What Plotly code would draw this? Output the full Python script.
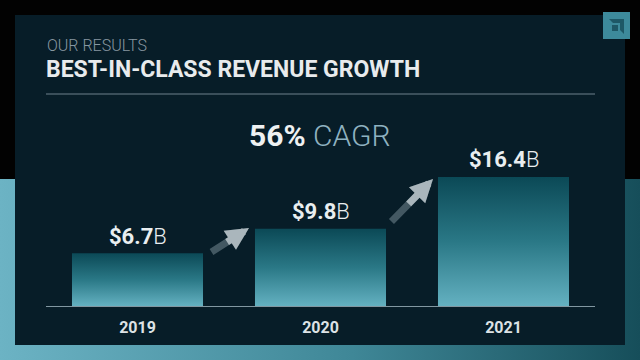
import plotly.graph_objects as go

# ---- data ----
years = ["2019", "2020", "2021"]
revenue_b = [6.7, 9.8, 16.4]
value_labels = ["$6.7", "$9.8", "$16.4"]
kicker = "OUR RESULTS"
title = "BEST-IN-CLASS REVENUE GROWTH"
cagr_value = "56%"
cagr_label = "CAGR"

W, H = 640, 360
FONT = "Roboto"

def px(x):
    return x / W

def py(y):
    return 1 - y / H

fig = go.Figure()

# ---- background layers on a full-page pixel subplot (xy) ----
fig.add_trace(go.Scatter(
    x=[0, W, W, 0, 0], y=[179, 179, H, H, 179], mode="lines",
    line=dict(width=0), fill="toself",
    fillgradient=dict(type="horizontal",
                      colorscale=[[0, "#6cb3c4"], [0.55, "#3f8797"], [1, "#164e5a"]]),
    hoverinfo="skip", showlegend=False, xaxis="x", yaxis="y"))
fig.add_trace(go.Scatter(
    x=[15, 625, 625, 15, 15], y=[15, 15, 345, 345, 15], mode="lines",
    line=dict(width=0), fill="toself", fillcolor="#071d28",
    hoverinfo="skip", showlegend=False, xaxis="x", yaxis="y"))

# ---- bars (vertical gradient fill), on the chart subplot (x2y2) ----
half = 0.358
for i, v in enumerate(revenue_b):
    fig.add_trace(go.Scatter(
        x=[i - half, i - half, i + half, i + half, i - half],
        y=[0, v, v, 0, 0], mode="lines", line=dict(width=0),
        fill="toself",
        fillgradient=dict(type="vertical",
                          colorscale=[[0, "#64b1c1"], [0.5, "#2a7886"], [1, "#0b4956"]]),
        hoverinfo="skip", showlegend=False, xaxis="x2", yaxis="y2"))

for i, (v, lab) in enumerate(zip(revenue_b, value_labels)):
    fig.add_annotation(
        x=i, y=v, xref="x2", yref="y2", text=f"<b>{lab}</b>B",
        showarrow=False, yanchor="middle", yshift=17,
        font=dict(family=FONT, size=22, color="#e9eef0", weight=300))

# growth arrows (layered to suggest the fade toward the tail)
for (hx, hy, tx, ty) in [(249, 228, 210, 253), (433, 179, 390, 223)]:
    fig.add_annotation(
        x=px(hx), y=py(hy), xref="paper", yref="paper", text="",
        showarrow=True, ax=tx - hx, ay=ty - hy, arrowhead=2, arrowsize=0.65,
        arrowwidth=7, arrowcolor="rgba(140,160,168,0.45)", standoff=0)
    fig.add_annotation(
        x=px(hx), y=py(hy), xref="paper", yref="paper", text="",
        showarrow=True, ax=(tx - hx) * 0.6, ay=(ty - hy) * 0.6, arrowhead=2,
        arrowsize=0.65, arrowwidth=7, arrowcolor="rgba(205,214,218,0.75)", standoff=0)

# header texts
fig.add_annotation(x=px(45), y=py(45), xref="paper", yref="paper", text=kicker,
                   showarrow=False, xanchor="left", yanchor="middle",
                   font=dict(family=FONT, size=16, color="#8797a1", weight=300))
fig.add_annotation(x=px(44), y=py(70), xref="paper", yref="paper", text=f"<b>{title}</b>",
                   showarrow=False, xanchor="left", yanchor="middle",
                   font=dict(family=FONT, size=23, color="#e8ebed"))
fig.add_annotation(x=px(320), y=py(135), xref="paper", yref="paper",
                   text=f"<b>{cagr_value}</b> <span style='color:#8fb2c0'>{cagr_label}</span>",
                   showarrow=False, xanchor="center", yanchor="middle",
                   font=dict(family=FONT, size=30, color="#eef1f2", weight=300))

fig.add_shape(type="line", xref="paper", yref="paper", x0=px(46), x1=px(595),
              y0=py(94), y1=py(94), line=dict(color="#6f818c", width=1))
fig.add_shape(type="rect", xref="paper", yref="paper", x0=px(603), x1=px(630),
              y0=py(12), y1=py(39), line=dict(width=0), fillcolor="#3d8a9b")
fig.add_shape(type="path", xref="paper", yref="paper",
              path=(f"M {px(609)} {py(19)} L {px(624)} {py(19)} L {px(624)} {py(34)} "
                    f"L {px(620)} {py(30)} L {px(620)} {py(23)} L {px(613)} {py(23)} Z "
                    f"M {px(612)} {py(25)} L {px(618)} {py(25)} L {px(618)} {py(31)} "
                    f"L {px(612)} {py(31)} Z"),
              line=dict(width=0), fillcolor="#1e5866")

fig.update_layout(
    width=W, height=H, margin=dict(l=0, r=0, t=0, b=0),
    paper_bgcolor="#020202", plot_bgcolor="rgba(0,0,0,0)",
    showlegend=False,
    xaxis=dict(domain=[0, 1], range=[0, W], visible=False, fixedrange=True),
    yaxis=dict(domain=[0, 1], range=[H, 0], visible=False, fixedrange=True),
    xaxis2=dict(domain=[px(46), px(595)], range=[-0.5, 2.5], anchor="y2",
                tickmode="array", tickvals=[0, 1, 2],
                ticktext=[f"<b>{y}</b>" for y in years],
                tickfont=dict(family=FONT, size=16, color="#dde2e5"),
                showline=True, linecolor="#8197a1", linewidth=1,
                showgrid=False, zeroline=False, ticks="", ticklabelstandoff=7,
                fixedrange=True),
    yaxis2=dict(domain=[py(306), py(306) + 20 * 7.87 / H], range=[0, 20], anchor="x2",
                visible=False, showgrid=False, zeroline=False, fixedrange=True),
)

fig.write_html("out.html", config={"displayModeBar": False},
               post_script="document.body.style.margin='0px';document.body.style.overflow='hidden';")
